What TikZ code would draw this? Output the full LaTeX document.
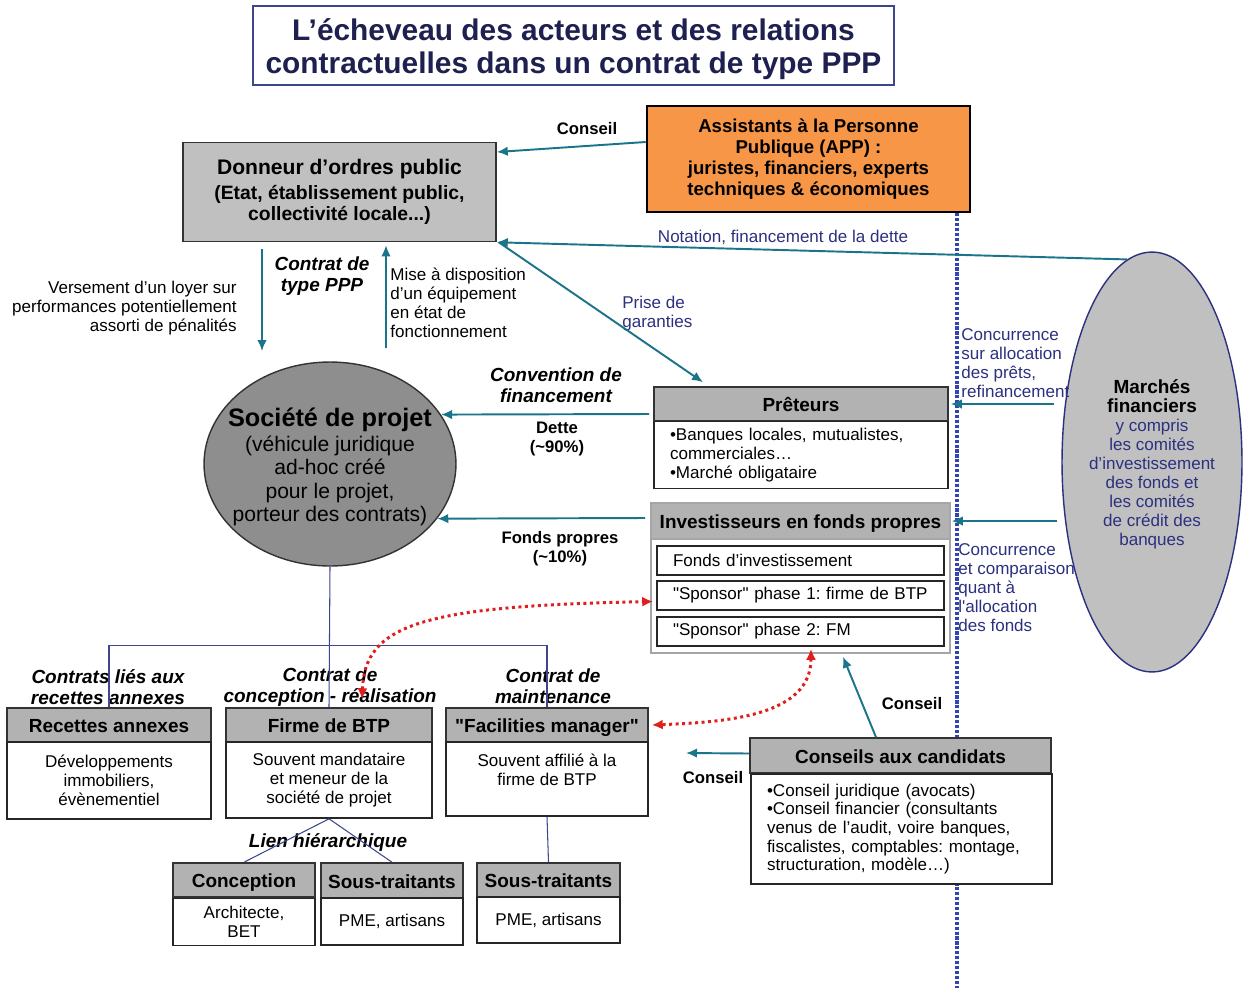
\documentclass[tikz,border=0pt]{standalone}
\usepackage{fontspec}
\setmainfont{Liberation Sans}
\usepackage{xcolor}
\usetikzlibrary{arrows.meta,shapes.geometric,backgrounds}

\definecolor{arrowteal}{RGB}{28,116,138}
\definecolor{textnavy}{RGB}{44,48,128}
\definecolor{linenavy}{RGB}{62,70,140}
\definecolor{dotblue}{RGB}{50,70,175}
\definecolor{hdrgray}{RGB}{178,178,178}
\definecolor{boxgray}{RGB}{192,192,192}
\definecolor{circgray}{RGB}{142,142,142}
\definecolor{appfill}{RGB}{247,150,70}
\definecolor{titlenavy}{RGB}{30,32,80}
\definecolor{dotred}{RGB}{225,30,30}

\newcommand{\upx}{0.02cm}
\frenchspacing

\tikzset{
  hdr/.style={draw=black!80, fill=hdrgray, line width=0.9pt, inner sep=0pt,
    text height=8.8pt, text depth=0pt, font=\fontsize{10.8}{12}\selectfont\bfseries},
  bodybox/.style={draw=black!85, fill=white, line width=0.9pt, inner sep=0pt, align=center},
  listbox/.style={draw=black!85, fill=white, line width=0.9pt, inner ysep=0pt, inner xsep=16*\upx, align=left},
  flow/.style={draw=arrowteal, line width=1.1pt, -{Latex[length=2.2mm,width=1.9mm]}},
  tree/.style={draw=linenavy, line width=0.6pt},
  reddot/.style={draw=dotred, line width=1.7pt, dotted,
    {Latex[length=2.2mm,width=2mm]}-{Latex[length=2.2mm,width=2mm]}},
  bluedot/.style={draw=dotblue, line width=1.8pt, densely dotted},
  lbl/.style={font=\fontsize{9.5}{10.8}\selectfont\bfseries, align=center, inner sep=0pt},
  lblit/.style={font=\fontsize{10.8}{12}\selectfont\bfseries\itshape, align=center, inner sep=0pt},
  navytxt/.style={text=textnavy, inner sep=0pt},
}

\begin{document}
\begin{tikzpicture}[x=0.02cm, y=-0.02cm, font=\fontsize{9.7}{10.8}\selectfont]
  \begin{pgfonlayer}{background}
    \fill[white] (0,0) rectangle (1244,988);
  \end{pgfonlayer}
  \useasboundingbox (0,0) rectangle (1244,988);

  % title
  \node[draw=linenavy, line width=1pt, minimum width=12.82cm, minimum height=1.58cm] (title) at (573.5,45.5) {};
  \node[text=titlenavy, align=center, inner sep=0pt, font=\fontsize{17}{18.9}\selectfont\bfseries] (titletxt) at (573.5,49)
    {L’écheveau des acteurs et des relations\\contractuelles dans un contrat de type PPP};

  % main actors
  \node[draw=black!80, fill=boxgray, line width=0.9pt, minimum width=6.26cm, minimum height=1.98cm,
    align=center, font=\fontsize{11}{12}\selectfont\bfseries] (donneur) at (339.5,192)
    {{\fontsize{12}{14}\selectfont Donneur d’ordres public}\\[2pt](Etat, établissement public,\\collectivité locale...)};
  \node[draw=black, fill=appfill, line width=1.5pt, minimum width=6.46cm, minimum height=2.12cm,
    align=center, font=\fontsize{10.6}{12.1}\selectfont\bfseries] (app) at (808.5,159)
    {Assistants à la Personne\\Publique (APP) :\\juristes, financiers, experts\\techniques \& économiques};
  \node[ellipse, draw=black!80, fill=circgray, line width=0.8pt, inner sep=0pt,
    minimum width=5.04cm, minimum height=4.08cm] (societe) at (330,464) {};
  \node[align=center, inner sep=0pt, font=\fontsize{12}{13.3}\selectfont] (societetxt) at (330,467)
    {{\fontsize{14.4}{16}\selectfont\bfseries Société de projet}\\[1pt](véhicule juridique\\ad-hoc créé\\pour le projet,\\porteur des contrats)};
  \node[ellipse, draw=textnavy, fill=boxgray, line width=0.8pt, inner sep=0pt,
    minimum width=3.6cm, minimum height=8.4cm] (marches) at (1152,462) {};
  \node[align=center, inner sep=0pt, text=textnavy] (marchestxt) at (1152,464)
    {\textcolor{black}{\fontsize{10.8}{11.3}\selectfont\bfseries Marchés}\\
     \textcolor{black}{\fontsize{10.8}{11.3}\selectfont\bfseries financiers}\\
     y compris\\les comités\\d’investissement\\des fonds et\\les comités\\de crédit des\\banques};

  % lenders and investors
  \node[hdr, minimum width=5.88cm, minimum height=0.68cm] (phdr) at (801,404) {Prêteurs};
  \node[listbox, text width=262*\upx, minimum height=1.34cm] (pbody) at (801,455)
    {•Banques locales, mutualistes,\\commerciales…\\•Marché obligataire};
  \node[draw=gray!70, line width=0.9pt, minimum width=5.98cm, minimum height=3cm] (invbox) at (800.5,578) {};
  \node[hdr, draw=gray!70, minimum width=5.98cm, minimum height=0.72cm] (ihdr) at (800.5,521)
    {Investisseurs en fonds propres};
  \node[listbox, text width=255*\upx, minimum height=0.58cm] (sp0) at (800.5,560.5) {Fonds d’investissement};
  \node[listbox, text width=255*\upx, minimum height=0.58cm] (sp1) at (800.5,595.5)
    {\mbox{\textquotedbl Sponsor\textquotedbl{} phase 1: firme de BTP}};
  \node[listbox, text width=255*\upx, minimum height=0.58cm] (sp2) at (800.5,631.5)
    {\mbox{\textquotedbl Sponsor\textquotedbl{} phase 2: FM}};

  % contractors
  \node[hdr, minimum width=4.08cm, minimum height=0.68cm] (rhdr) at (109,725) {Recettes annexes};
  \node[bodybox, minimum width=4.08cm, minimum height=1.54cm] (rbody) at (109,780.5)
    {Développements\\immobiliers,\\évènementiel};
  \node[hdr, minimum width=4.12cm, minimum height=0.68cm] (fhdr) at (329,725) {Firme de BTP};
  \node[bodybox, minimum width=4.12cm, minimum height=1.52cm] (fbody) at (329,780)
    {Souvent mandataire\\et meneur de la\\société de projet};
  \node[hdr, minimum width=4.04cm, minimum height=0.68cm] (mhdr) at (547,725)
    {\textquotedbl Facilities manager\textquotedbl};
  \node[bodybox, minimum width=4.04cm, minimum height=1.48cm] (mbody) at (547,779)
    {Souvent affilié à la\\firme de BTP\\\mbox{}};
  \node[hdr, minimum width=2.84cm, minimum height=0.68cm] (chdr) at (244,880) {Conception};
  \node[bodybox, minimum width=2.84cm, minimum height=0.94cm] (cbody) at (244,922) {Architecte,\\BET};
  \node[hdr, minimum width=2.84cm, minimum height=0.70cm] (s1hdr) at (392,880.5) {Sous-traitants};
  \node[bodybox, minimum width=2.84cm, minimum height=0.94cm] (s1body) at (392,921.5) {PME, artisans};
  \node[hdr, minimum width=2.86cm, minimum height=0.68cm] (s2hdr) at (548.5,880) {Sous-traitants};
  \node[bodybox, minimum width=2.86cm, minimum height=0.92cm] (s2body) at (548.5,920) {PME, artisans};
  \node[hdr, minimum width=6.02cm, minimum height=0.70cm] (khdr) at (900.5,755.5) {Conseils aux candidats};
  \node[listbox, text width=269*\upx, minimum height=2.2cm, font=\fontsize{9.7}{10.6}\selectfont] (kbody) at (901.5,829)
    {•Conseil juridique (avocats)\\•Conseil financier (consultants\\venus de l’audit, voire banques,\\fiscalistes, comptables: montage,\\structuration, modèle…)};

  % labels
  \node[lbl] (lconseil1) at (587,129) {Conseil};
  \node[navytxt] (lnotation) at (783,237) {Notation, financement de la dette};
  \node[navytxt, anchor=west, align=left] (lprise) at (622,314) {Prise de\\garanties};
  \node[lblit] (lppp) at (322,276) {Contrat de\\type PPP};
  \node[anchor=east, align=right, inner sep=0pt] (lloyer) at (237,308)
    {Versement d’un loyer sur\\performances potentiellement\\assorti de pénalités};
  \node[anchor=west, align=left, inner sep=0pt] (lmise) at (390,303)
    {Mise à disposition\\d’un équipement\\en état de\\fonctionnement};
  \node[lblit] (lconv) at (556,385) {Convention de\\financement};
  \node[lbl] (ldette) at (557,439) {Dette\\(\textasciitilde 90\%)};
  \node[lbl] (lfp) at (560,549) {Fonds propres\\(\textasciitilde 10\%)};
  \node[navytxt, anchor=west, align=left] (lconc1) at (961,363)
    {Concurrence\\sur allocation\\des prêts,\\refinancement};
  \node[navytxt, anchor=west, align=left] (lconc2) at (958,588)
    {Concurrence\\et comparaison\\quant à\\l\textquotesingle allocation\\des fonds};
  \node[lblit] (lrec) at (108,687) {Contrats liés aux\\recettes annexes};
  \node[lblit] (lcr) at (330,687) {Contrat de\\conception - réalisation};
  \node[lblit] (lmaint) at (553,686) {Contrat de\\maintenance};
  \node[lblit] (llien) at (328,842) {Lien hiérarchique};
  \node[lbl] (lconseil2) at (912,704) {Conseil};
  \node[lbl] (lconseil3) at (713,778) {Conseil};

  % free ends
  \coordinate (loyerend) at (262,351);
  \coordinate (misestart) at (386,348);
  \coordinate (kfree) at (686,753);
  \coordinate (dotend) at (957,988);

  \begin{pgfonlayer}{background}
    \draw[bluedot] (app.south -| dotend) -- (dotend);
  \end{pgfonlayer}

  % money and advice flows
  \draw[flow] ([yshift=17*\upx]app.west) -- ([yshift=40*\upx]donneur.east);
  \draw[flow] (marches.97) -- (donneur.south east);
  \draw[flow] ([xshift=2*\upx]donneur.south east) -- ([xshift=-98*\upx,yshift=4*\upx]phdr.north);
  \draw[flow] ([xshift=-77.5*\upx,yshift=-7*\upx]donneur.south) -- (loyerend);
  \draw[flow] (misestart) -- ([xshift=46.5*\upx,yshift=-3*\upx]donneur.south);
  \draw[flow] ([xshift=-4*\upx,yshift=-10*\upx]phdr.west) -- (societe.24);
  \draw[flow] ([xshift=-5*\upx,yshift=3*\upx]ihdr.west) -- (societe.-27);
  \draw[flow] ([xshift=-7*\upx]marches.west |- phdr.east) -- ([xshift=2*\upx]phdr.east);
  \draw[flow] ([xshift=-4*\upx]marches.west |- ihdr.east) -- ([xshift=1*\upx]ihdr.east);
  \draw[flow] ([yshift=2*\upx]khdr.west) -- (kfree);
  \draw[flow] ([xshift=-24.5*\upx]khdr.north) -- ([xshift=42.5*\upx,yshift=-3*\upx]invbox.south);

  % contract tree
  \draw[tree] (societe.south) -- (fhdr.north);
  \draw[tree] (rhdr.north) -- ++(0,-62) -| (mhdr.north);
  \draw[tree] (fbody.south) -- (chdr.north);
  \draw[tree] (fbody.south) -- (s1hdr.north);
  \draw[tree] (mbody.south) -- (s2hdr.north);

  % sponsor links
  \draw[reddot] ([xshift=33*\upx,yshift=8*\upx]fhdr.north) .. controls (365,625) and (420,606) .. ([xshift=-3*\upx,yshift=-6*\upx]sp1.west);
  \draw[reddot] ([xshift=10.5*\upx,yshift=-2*\upx]sp2.south) .. controls (811,715) and (730,722) .. ([xshift=3*\upx]mhdr.east);
\end{tikzpicture}
\end{document}
